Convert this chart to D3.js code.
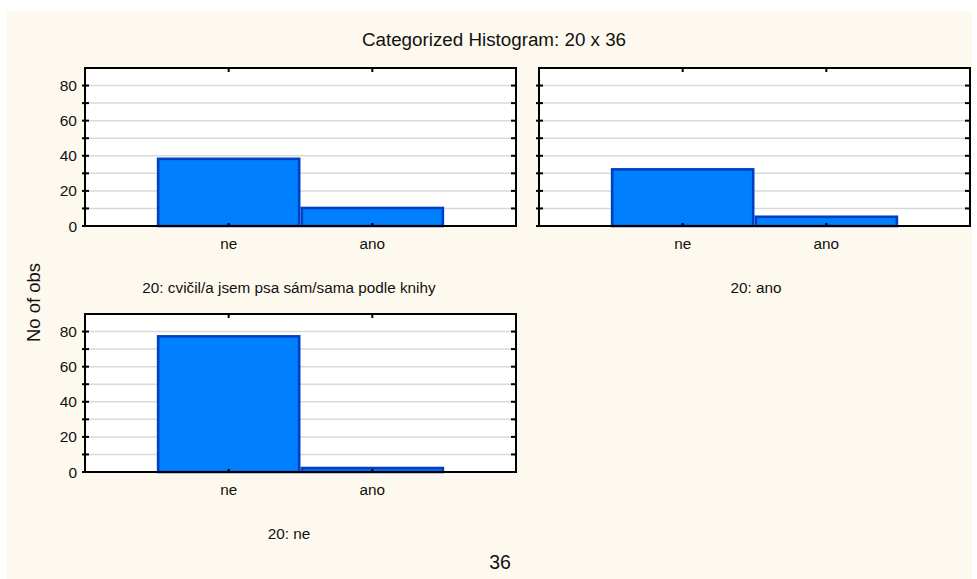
<!DOCTYPE html>
<html><head><meta charset="utf-8">
<script src="https://cdn.jsdelivr.net/npm/d3@7"></script>
<style>body{margin:0;background:#fff}svg{display:block;font-family:"Liberation Sans",Arial,sans-serif}</style>
</head><body>
<svg id="c" width="977" height="579"></svg>
<script>
const categories = ["ne", "ano"];
const panelTitles = ["20: cvičil/a jsem psa sám/sama podle knihy", "20: ano", "20: ne"];
const panelValues = [[39, 11], [33, 6], [78, 3]];
const yTicks = [0, 20, 40, 60, 80];
const yMinor = [10, 30, 50, 70];
const chartTitle = "Categorized Histogram: 20 x 36";
const yAxisTitle = "No of obs";
const xAxisTitle = "36";

const svg = d3.select("#c");
svg.append("rect").attr("x",7).attr("y",11).attr("width",965).attr("height",568).attr("fill","#fef9ee");

svg.append("text").attr("x",494).attr("y",46).attr("text-anchor","middle").attr("font-size",18.8).attr("fill","#111").text(chartTitle);
svg.append("text").attr("transform","translate(39.5,302.5) rotate(-90)").attr("text-anchor","middle").attr("font-size",18.5).attr("fill","#111").text(yAxisTitle);
svg.append("text").attr("x",500).attr("y",569).attr("text-anchor","middle").attr("font-size",19.5).attr("fill","#111").text(xAxisTitle);

const panels = [{x:85,y:68,tx:289},{x:539,y:68,tx:756},{x:85,y:314,tx:289}];
const W = 431, H = 158;

panels.forEach((p,i)=>{
  const g = svg.append("g").attr("transform",`translate(${p.x},${p.y})`);
  const x = d3.scaleLinear().domain([0,3]).range([0,W]);
  const y = d3.scaleLinear().domain([0,90]).range([H,0]);
  g.append("rect").attr("width",W).attr("height",H).attr("fill","#fff");
  g.selectAll("line.grid").data(d3.range(10,90,10)).join("line")
    .attr("x1",0).attr("x2",W).attr("y1",d=>y(d)).attr("y2",d=>y(d))
    .attr("stroke","#d9d9d9").attr("stroke-width",1.5);
  g.selectAll("rect.bar").data(panelValues[i]).join("rect")
    .attr("x",(d,j)=>x(j+0.5)+1.3).attr("width",x(1)-x(0)-2.6)
    .attr("y",d=>y(d)+1.3).attr("height",d=>y(0)-y(d)-1.3)
    .attr("fill","#0080ff").attr("stroke","#0040c4").attr("stroke-width",2.6);
  const all = yTicks.concat(yMinor);
  g.selectAll("line.lt").data(all).join("line")
    .attr("x1",-3).attr("x2",4).attr("y1",d=>y(d)).attr("y2",d=>y(d)).attr("stroke","#000").attr("stroke-width",2);
  g.selectAll("line.rt").data(all).join("line")
    .attr("x1",W-5).attr("x2",W).attr("y1",d=>y(d)).attr("y2",d=>y(d)).attr("stroke","#000").attr("stroke-width",2);
  g.selectAll("line.tt").data(categories).join("line")
    .attr("x1",(d,j)=>x(j+1)).attr("x2",(d,j)=>x(j+1)).attr("y1",0).attr("y2",4).attr("stroke","#000").attr("stroke-width",2);
  g.selectAll("line.bt").data(categories).join("line")
    .attr("x1",(d,j)=>x(j+1)).attr("x2",(d,j)=>x(j+1)).attr("y1",H-3).attr("y2",H).attr("stroke","#000").attr("stroke-width",2);
  g.append("rect").attr("width",W).attr("height",H).attr("fill","none").attr("stroke","#000").attr("stroke-width",2);
  if (p.x < 300) {
    g.selectAll("text.yl").data(yTicks).join("text")
      .attr("x",-8).attr("y",d=>y(d)+5.5).attr("text-anchor","end").attr("font-size",15.5).attr("fill","#111").text(d=>d);
  }
  g.selectAll("text.xl").data(categories).join("text")
    .attr("x",(d,j)=>x(j+1)).attr("y",H+23).attr("text-anchor","middle").attr("font-size",15.3).attr("fill","#111").text(d=>d);
  g.append("text").attr("x",p.tx-p.x).attr("y",H+67).attr("text-anchor","middle").attr("font-size",15.3).attr("fill","#111").text(panelTitles[i]);
});
</script>
</body></html>
